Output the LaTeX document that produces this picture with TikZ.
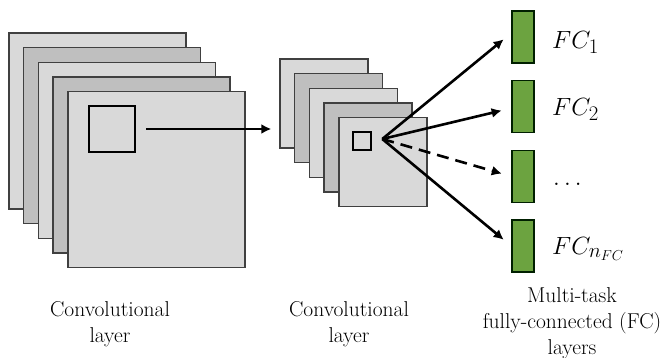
\documentclass[tikz,border=0pt]{standalone}
\usetikzlibrary{arrows.meta,positioning}

\begin{document}
\begin{tikzpicture}[x=1pt,y=-1pt,>={Latex[length=10pt,width=10pt]},
 fmap/.style={draw=black!75,line width=1.4pt,inner sep=0pt},
 lightmap/.style={fmap,fill=black!15},
 darkmap/.style={fmap,fill=black!25},
 patch/.style={draw=black,line width=2.6pt,inner sep=0pt,fill=none},
 fcbar/.style={draw=black!70!green!40!black,line width=1.2pt,fill={rgb,255:red,108;green,163;blue,64},minimum width=22pt,minimum height=52pt,inner sep=0pt},
 fclabel/.style={anchor=base west,font=\fontsize{31}{36}\selectfont,inner sep=0pt},
 caption/.style={anchor=base,align=center,font=\fontsize{21.5}{26}\selectfont,inner sep=0pt},
 flow/.style={->,line width=2.6pt,black}]
\useasboundingbox (0,0) rectangle (662,358);

% first convolutional stack
\foreach \i in {1,...,5}{
  \pgfmathsetmacro\shift{14.7*(\i-1)}
  \pgfmathparse{isodd(\i)}
  \ifnum\pgfmathresult=1 \def\mapstyle{lightmap}\else\def\mapstyle{darkmap}\fi
  \node[\mapstyle,minimum width=177pt,minimum height=176pt] (convA-\i) at (97.5+\shift,121+\shift) {};
}
\node[patch,minimum size=46pt] (patchA) at (112,129) {};

% second convolutional stack
\foreach \i in {1,...,5}{
  \pgfmathsetmacro\shift{14.7*(\i-1)}
  \pgfmathparse{isodd(\i)}
  \ifnum\pgfmathresult=1 \def\mapstyle{lightmap}\else\def\mapstyle{darkmap}\fi
  \node[\mapstyle,minimum width=88pt,minimum height=89pt] (convB-\i) at (324+\shift,103.5+\shift) {};
}
\node[patch,minimum size=18pt] (patchB) at (362,141) {};

\draw[flow,shorten <=10pt,shorten >=8pt] (patchA.east) -- (convB-1.west |- patchA.east);

% multi-task FC heads
\node[fcbar] (fc1) at (523,37) {};
\node[fcbar,below=16.5pt of fc1] (fc2) {};
\node[fcbar,below=16.5pt of fc2] (fc3) {};
\node[fcbar,below=16.5pt of fc3] (fc4) {};

\node[fclabel] (lab1) at ([xshift=29pt,yshift=-12pt]fc1.center) {$FC_1$};
\node[fclabel] (lab2) at ([xshift=29pt,yshift=-9pt]fc2.center) {$FC_2$};
\node[fclabel] (lab3) at ([xshift=30pt,yshift=-9pt]fc3.center) {$\ldots$};
\node[fclabel] (lab4) at ([xshift=29pt,yshift=-8pt]fc4.center) {$FC_{n_{FC}}$};

\coordinate (fan) at ([xshift=10pt,yshift=2pt]patchB.east);
\draw[flow,shorten >=10pt] (fan) -- ([yshift=4pt]fc1.west);
\draw[flow,shorten >=10pt] (fan) -- ([yshift=-1.5pt]fc2.west);
\draw[flow,shorten >=10pt,dash pattern=on 12pt off 7pt] (fan) -- (fc3.west);
\draw[flow,shorten >=10pt] (fan) -- (fc4.west);

% captions (anchored on the last line)
\node[caption] (capA) at (110,343) {Convolutional\\layer};
\node[caption] (capB) at (349,343) {Convolutional\\layer};
\node[caption] (capC) at (572,355) {Multi-task\\fully-connected (FC)\\layers};
\end{tikzpicture}
\end{document}
